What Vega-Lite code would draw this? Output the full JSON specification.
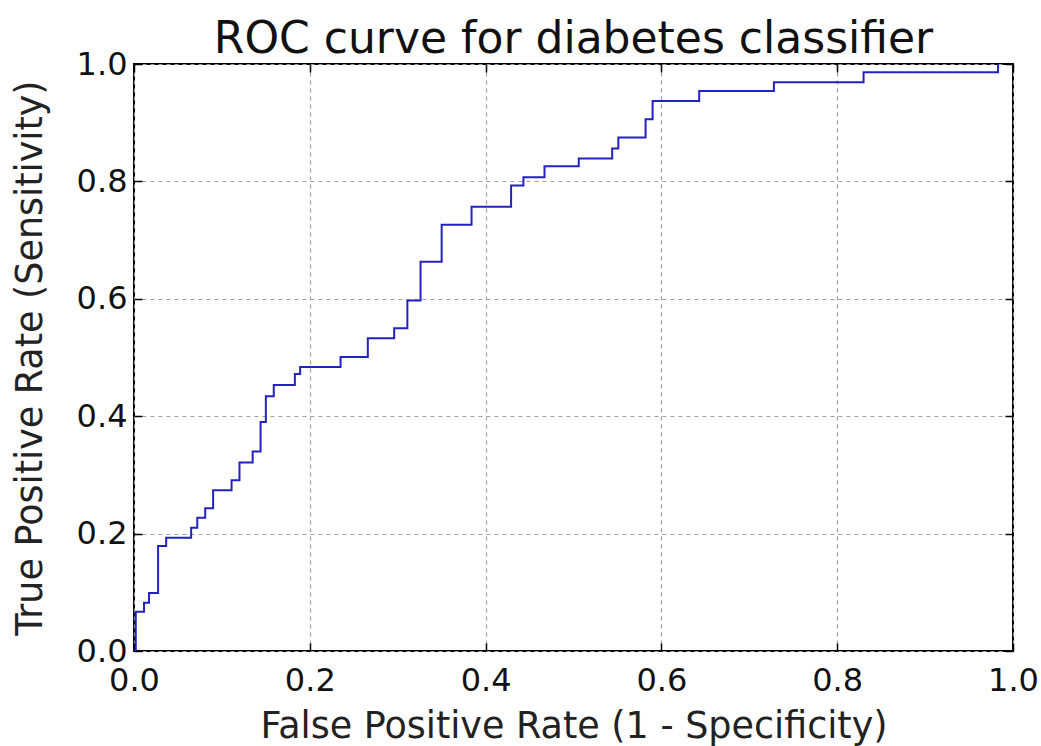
{
  "$schema": "https://vega.github.io/schema/vega-lite/v6.json",
  "autosize": "none",
  "width": 879,
  "height": 587,
  "padding": {"left": 134, "top": 64, "right": 28, "bottom": 95},
  "background": "white",
  "config": {
    "font": "DejaVu Sans",
    "view": {"stroke": "black", "strokeWidth": 2},
    "axis": {
      "domain": false,
      "grid": true,
      "gridColor": "#a0a0a0",
      "gridDash": [4, 4],
      "gridWidth": 1.2,
      "tickColor": "black",
      "tickWidth": 1.5,
      "labelFont": "DejaVu Sans",
      "labelFontSize": 32,
      "labelFlush": false,
      "labelOverlap": false,
      "labelColor": "#111",
      "titleFont": "DejaVu Sans",
      "titleFontSize": 36.5,
      "titleFontWeight": "normal",
      "titleColor": "#222"
    },
    "title": {"font": "DejaVu Sans", "fontSize": 44, "fontWeight": "normal", "color": "#111"}
  },
  "title": {"text": "ROC curve for diabetes classifier", "offset": -14},
  "data": {
    "values": [
      {"i": 1, "fpr": 0.0, "tpr": 0.0},
      {"i": 2, "fpr": 0.002, "tpr": 0.0},
      {"i": 3, "fpr": 0.002, "tpr": 0.067},
      {"i": 4, "fpr": 0.0114, "tpr": 0.067},
      {"i": 5, "fpr": 0.0114, "tpr": 0.082},
      {"i": 6, "fpr": 0.0171, "tpr": 0.082},
      {"i": 7, "fpr": 0.0171, "tpr": 0.099},
      {"i": 8, "fpr": 0.0274, "tpr": 0.099},
      {"i": 9, "fpr": 0.0274, "tpr": 0.179},
      {"i": 10, "fpr": 0.0366, "tpr": 0.179},
      {"i": 11, "fpr": 0.0366, "tpr": 0.193},
      {"i": 12, "fpr": 0.065, "tpr": 0.193},
      {"i": 13, "fpr": 0.065, "tpr": 0.21},
      {"i": 14, "fpr": 0.072, "tpr": 0.21},
      {"i": 15, "fpr": 0.072, "tpr": 0.227},
      {"i": 16, "fpr": 0.081, "tpr": 0.227},
      {"i": 17, "fpr": 0.081, "tpr": 0.243},
      {"i": 18, "fpr": 0.09, "tpr": 0.243},
      {"i": 19, "fpr": 0.09, "tpr": 0.274},
      {"i": 20, "fpr": 0.111, "tpr": 0.274},
      {"i": 21, "fpr": 0.111, "tpr": 0.291},
      {"i": 22, "fpr": 0.12, "tpr": 0.291},
      {"i": 23, "fpr": 0.12, "tpr": 0.321},
      {"i": 24, "fpr": 0.135, "tpr": 0.321},
      {"i": 25, "fpr": 0.135, "tpr": 0.34},
      {"i": 26, "fpr": 0.144, "tpr": 0.34},
      {"i": 27, "fpr": 0.144, "tpr": 0.39},
      {"i": 28, "fpr": 0.15, "tpr": 0.39},
      {"i": 29, "fpr": 0.15, "tpr": 0.434},
      {"i": 30, "fpr": 0.159, "tpr": 0.434},
      {"i": 31, "fpr": 0.159, "tpr": 0.453},
      {"i": 32, "fpr": 0.183, "tpr": 0.453},
      {"i": 33, "fpr": 0.183, "tpr": 0.472},
      {"i": 34, "fpr": 0.189, "tpr": 0.472},
      {"i": 35, "fpr": 0.189, "tpr": 0.484},
      {"i": 36, "fpr": 0.235, "tpr": 0.484},
      {"i": 37, "fpr": 0.235, "tpr": 0.501},
      {"i": 38, "fpr": 0.266, "tpr": 0.501},
      {"i": 39, "fpr": 0.266, "tpr": 0.533},
      {"i": 40, "fpr": 0.296, "tpr": 0.533},
      {"i": 41, "fpr": 0.296, "tpr": 0.55},
      {"i": 42, "fpr": 0.311, "tpr": 0.55},
      {"i": 43, "fpr": 0.311, "tpr": 0.597},
      {"i": 44, "fpr": 0.326, "tpr": 0.597},
      {"i": 45, "fpr": 0.326, "tpr": 0.663},
      {"i": 46, "fpr": 0.35, "tpr": 0.663},
      {"i": 47, "fpr": 0.35, "tpr": 0.726},
      {"i": 48, "fpr": 0.384, "tpr": 0.726},
      {"i": 49, "fpr": 0.384, "tpr": 0.757},
      {"i": 50, "fpr": 0.429, "tpr": 0.757},
      {"i": 51, "fpr": 0.429, "tpr": 0.793},
      {"i": 52, "fpr": 0.443, "tpr": 0.793},
      {"i": 53, "fpr": 0.443, "tpr": 0.807},
      {"i": 54, "fpr": 0.467, "tpr": 0.807},
      {"i": 55, "fpr": 0.467, "tpr": 0.826},
      {"i": 56, "fpr": 0.506, "tpr": 0.826},
      {"i": 57, "fpr": 0.506, "tpr": 0.839},
      {"i": 58, "fpr": 0.544, "tpr": 0.839},
      {"i": 59, "fpr": 0.544, "tpr": 0.856},
      {"i": 60, "fpr": 0.551, "tpr": 0.856},
      {"i": 61, "fpr": 0.551, "tpr": 0.875},
      {"i": 62, "fpr": 0.582, "tpr": 0.875},
      {"i": 63, "fpr": 0.582, "tpr": 0.906},
      {"i": 64, "fpr": 0.59, "tpr": 0.906},
      {"i": 65, "fpr": 0.59, "tpr": 0.937},
      {"i": 66, "fpr": 0.643, "tpr": 0.937},
      {"i": 67, "fpr": 0.643, "tpr": 0.954},
      {"i": 68, "fpr": 0.728, "tpr": 0.954},
      {"i": 69, "fpr": 0.728, "tpr": 0.969},
      {"i": 70, "fpr": 0.83, "tpr": 0.969},
      {"i": 71, "fpr": 0.83, "tpr": 0.986},
      {"i": 72, "fpr": 0.983, "tpr": 0.986},
      {"i": 73, "fpr": 0.983, "tpr": 1.0}
    ]
  },
  "layer": [
    {
      "mark": {"type": "line", "color": "#2222c0", "strokeWidth": 2, "clip": true},
      "encoding": {
        "x": {"field": "fpr", "type": "quantitative", "scale": {"domain": [0, 1], "nice": false},
          "axis": {"orient": "bottom", "values": [0, 0.2, 0.4, 0.6, 0.8, 1.0], "format": ".1f", "tickSize": -8, "labelPadding": 22, "title": "False Positive Rate (1 - Specificity)", "titlePadding": 12}},
        "y": {"field": "tpr", "type": "quantitative", "scale": {"domain": [0, 1], "nice": false},
          "axis": {"orient": "left", "values": [0, 0.2, 0.4, 0.6, 0.8, 1.0], "format": ".1f", "tickSize": -8, "labelPadding": 15, "title": "True Positive Rate (Sensitivity)", "titlePadding": 27}},
        "order": {"field": "i", "type": "quantitative"}
      }
    },
    {
      "mark": {"type": "line", "opacity": 0},
      "encoding": {
        "x": {"field": "fpr", "type": "quantitative", "scale": {"domain": [0, 1], "nice": false},
          "axis": {"orient": "top", "values": [0, 0.2, 0.4, 0.6, 0.8, 1.0], "labels": false, "grid": false, "tickSize": -8, "title": null}},
        "y": {"field": "tpr", "type": "quantitative", "scale": {"domain": [0, 1], "nice": false},
          "axis": {"orient": "right", "values": [0, 0.2, 0.4, 0.6, 0.8, 1.0], "labels": false, "grid": false, "tickSize": -8, "title": null}}
      }
    }
  ],
  "resolve": {"axis": {"x": "independent", "y": "independent"}}
}
